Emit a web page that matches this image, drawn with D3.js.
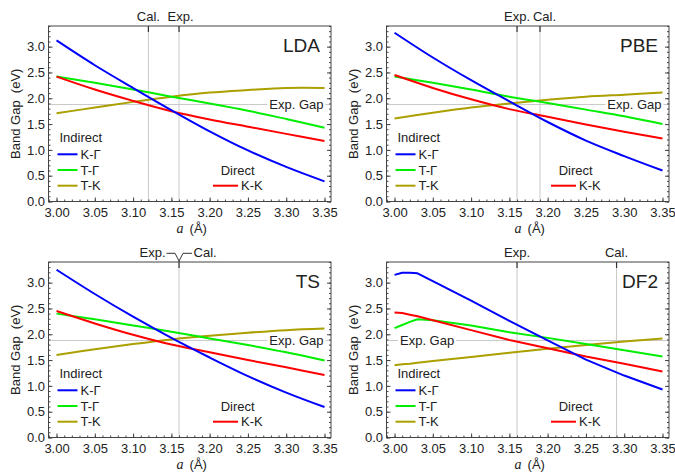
<!DOCTYPE html>
<html>
<head>
<meta charset="utf-8">
<script src="https://cdn.jsdelivr.net/npm/d3@7"></script>
<style>
  body { margin: 0; background: #fff; }
  text { font-family: "Liberation Sans", Arial, sans-serif; fill: #222; }
</style>
</head>
<body>
<div id="chart"></div>
<script>
// lattice constant grids (Å)
const xGrid = [3.00, 3.05, 3.10, 3.15, 3.20, 3.25, 3.30, 3.35];
const xGridDF2 = [3.00, 3.01, 3.02, 3.03, 3.05, 3.10, 3.15, 3.20, 3.25, 3.30, 3.35];
const xTicks = [3.00, 3.05, 3.10, 3.15, 3.20, 3.25, 3.30, 3.35];
const yTicks = [0, 0.5, 1.0, 1.5, 2.0, 2.5, 3.0];

const panelNames = ["LDA", "PBE", "TS", "DF2"];
const expLattice = 3.16;
const calLattice = [3.12, 3.19, 3.16, 3.29];
const expGap = 1.88;

// band gaps (eV)
const ldaKG = [3.12, 2.64, 2.20, 1.77, 1.36, 0.99, 0.67, 0.39];
const ldaTG = [2.42, 2.30, 2.17, 2.03, 1.90, 1.76, 1.60, 1.43];
const ldaTK = [1.71, 1.82, 1.93, 2.03, 2.11, 2.16, 2.20, 2.20];
const ldaKK = [2.42, 2.17, 1.95, 1.75, 1.59, 1.45, 1.31, 1.17];

const pbeKG = [3.27, 2.79, 2.35, 1.94, 1.54, 1.18, 0.88, 0.60];
const pbeTG = [2.42, 2.30, 2.17, 2.03, 1.91, 1.78, 1.65, 1.50];
const pbeTK = [1.61, 1.72, 1.82, 1.90, 1.97, 2.03, 2.07, 2.11];
const pbeKK = [2.45, 2.20, 1.98, 1.79, 1.64, 1.49, 1.35, 1.22];

const tsKG = [3.25, 2.78, 2.34, 1.93, 1.55, 1.19, 0.87, 0.59];
const tsTG = [2.40, 2.29, 2.17, 2.05, 1.92, 1.79, 1.65, 1.49];
const tsTK = [1.60, 1.71, 1.81, 1.90, 1.97, 2.03, 2.08, 2.11];
const tsKK = [2.45, 2.21, 1.99, 1.80, 1.65, 1.50, 1.36, 1.21];

const df2KG = [3.15, 3.19, 3.19, 3.18, 3.03, 2.65, 2.26, 1.88, 1.51, 1.20, 0.93];
const df2TG = [2.12, 2.18, 2.24, 2.29, 2.27, 2.17, 2.04, 1.93, 1.81, 1.69, 1.57];
const df2TK = [1.40, 1.42, 1.43, 1.45, 1.48, 1.56, 1.64, 1.72, 1.79, 1.86, 1.92];
const df2KK = [2.42, 2.41, 2.38, 2.35, 2.27, 2.08, 1.89, 1.73, 1.57, 1.43, 1.28];

const colors = { kg: "#0000ff", tg: "#00ee00", tk: "#aba000", kk: "#ff0000" };

const panels = [
  { name: panelNames[0], ox: 0,   oy: 0,   xs: xGrid,    kg: ldaKG, tg: ldaTG, tk: ldaTK, kk: ldaKK, cal: calLattice[0], calDx: 0,   expDx: 1.5, gapLeft: false, smooth: true },
  { name: panelNames[1], ox: 338, oy: 0,   xs: xGrid,    kg: pbeKG, tg: pbeTG, tk: pbeTK, kk: pbeKK, cal: calLattice[1], calDx: 4.5, expDx: 0,   gapLeft: false, smooth: true },
  { name: panelNames[2], ox: 0,   oy: 236, xs: xGrid,    kg: tsKG,  tg: tsTG,  tk: tsTK,  kk: tsKK,  cal: calLattice[2], calDx: 0,   expDx: 0,   gapLeft: false, smooth: true },
  { name: panelNames[3], ox: 338, oy: 236, xs: xGridDF2, kg: df2KG, tg: df2TG, tk: df2TK, kk: df2KK, cal: calLattice[3], calDx: 0,   expDx: 0,   gapLeft: true,  smooth: false }
];

const W = 675, H = 472;
const fl = 48.5, fr = 331, ft = 26, fb = 201.5;

const svg = d3.select("#chart").append("svg")
  .attr("width", W).attr("height", H);

const x = d3.scaleLinear().domain([2.9895, 3.3585]).range([fl, fr]);
const y = d3.scaleLinear().domain([0, 3.4]).range([fb, ft]);

const smoothLine = d3.line()
  .x(d => x(d[0]))
  .y(d => y(d[1]))
  .curve(d3.curveCatmullRom.alpha(0.5));
const kinkLine = d3.line()
  .x(d => x(d[0]))
  .y(d => y(d[1]))
  .curve(d3.curveLinear);

panels.forEach(p => {
  const g = svg.append("g").attr("transform", `translate(${p.ox},${p.oy})`);

  // reference lines
  g.append("line")
    .attr("x1", fl).attr("x2", fr)
    .attr("y1", y(expGap)).attr("y2", y(expGap))
    .attr("stroke", "#c8c8c8").attr("stroke-width", 1);

  const marks = p.cal === expLattice ? [expLattice] : [p.cal, expLattice];
  marks.forEach(a => {
    g.append("line")
      .attr("x1", x(a)).attr("x2", x(a))
      .attr("y1", ft).attr("y2", fb)
      .attr("stroke", "#c8c8c8").attr("stroke-width", 1);
  });

  // Exp. Gap label with white backing
  const gapBox = g.append("rect").attr("fill", "#fff");
  const gl = g.append("text")
    .attr("y", y(expGap) + 4.5)
    .attr("font-size", 13)
    .text("Exp. Gap");
  if (p.gapLeft) gl.attr("x", fl + 13.5).attr("text-anchor", "start");
  else gl.attr("x", fr - 7.5).attr("text-anchor", "end");
  const bb = gl.node().getBBox();
  gapBox.attr("x", bb.x - 2).attr("y", bb.y)
    .attr("width", bb.width + 4).attr("height", bb.height);

  // curves
  const line = p.smooth ? smoothLine : kinkLine;
  [["tk", p.tk], ["tg", p.tg], ["kk", p.kk], ["kg", p.kg]].forEach(([k, vals]) => {
    g.append("path")
      .datum(p.xs.map((a, i) => [a, vals[i]]))
      .attr("d", line)
      .attr("fill", "none")
      .attr("stroke", colors[k])
      .attr("stroke-width", 2)
      .attr("stroke-linejoin", "round");
  });

  // frame ticks
  const minorY = d3.range(0, 3.41, 0.1);
  const minorX = d3.range(2.99, 3.355, 0.01);

  g.append("g").attr("transform", `translate(${fl},0)`)
    .call(d3.axisLeft(y).tickValues(minorY).tickSize(-2).tickFormat(""));
  g.append("g").attr("transform", `translate(${fr},0)`)
    .call(d3.axisRight(y).tickValues(minorY).tickSize(-2).tickFormat(""));
  g.append("g").attr("transform", `translate(0,${fb})`)
    .call(d3.axisBottom(x).tickValues(minorX).tickSize(-2).tickFormat(""));

  g.append("g").attr("transform", `translate(${fl},0)`)
    .call(d3.axisLeft(y).tickValues(yTicks).tickSize(-4).tickPadding(3.5).tickFormat(d3.format(".1f")));
  g.append("g").attr("transform", `translate(${fr},0)`)
    .call(d3.axisRight(y).tickValues(yTicks).tickSize(-4).tickFormat(""));
  g.append("g").attr("transform", `translate(0,${fb})`)
    .call(d3.axisBottom(x).tickValues(xTicks).tickSize(-4).tickPadding(6.5).tickFormat(d3.format(".2f")));

  g.selectAll(".domain").remove();
  g.selectAll(".tick line").attr("stroke", "#444");
  g.selectAll(".tick text").attr("font-size", 13).attr("fill", "#222")
    .attr("font-family", "Liberation Sans, Arial, sans-serif");

  g.append("rect")
    .attr("x", fl).attr("y", ft)
    .attr("width", fr - fl).attr("height", fb - ft)
    .attr("fill", "none").attr("stroke", "#444").attr("stroke-width", 1);

  // top marks for Cal./Exp.
  if (p.cal === expLattice) {
    const xv = x(expLattice);
    g.append("path")
      .attr("d", `M${xv - 12.5},17.3H${xv - 4}L${xv},25L${xv + 4},17.3H${xv + 13}`)
      .attr("fill", "none").attr("stroke", "#333").attr("stroke-width", 1);
    g.append("line")
      .attr("x1", xv).attr("x2", xv).attr("y1", 25).attr("y2", ft + 6)
      .attr("stroke", "#333").attr("stroke-width", 1.2);
    g.append("text").attr("x", xv - 13.5).attr("y", 21)
      .attr("text-anchor", "end").attr("font-size", 13).text("Exp.");
    g.append("text").attr("x", xv + 14.5).attr("y", 21)
      .attr("text-anchor", "start").attr("font-size", 13).text("Cal.");
  } else {
    [[p.cal, "Cal.", p.calDx], [expLattice, "Exp.", p.expDx]].forEach(([a, t, dx]) => {
      g.append("line")
        .attr("x1", x(a)).attr("x2", x(a)).attr("y1", ft).attr("y2", ft + 6)
        .attr("stroke", "#333").attr("stroke-width", 1.2);
      g.append("text").attr("x", x(a) + dx).attr("y", 21)
        .attr("text-anchor", "middle").attr("font-size", 13).text(t);
    });
  }

  // panel name
  g.append("text").attr("x", fr - 11).attr("y", 52)
    .attr("text-anchor", "end").attr("font-size", 19).text(p.name);

  // legends
  g.append("text").attr("x", fl + 11).attr("y", 142).attr("font-size", 13).text("Indirect");
  [["kg", "K-Γ", 154.3], ["tg", "T-Γ", 170], ["tk", "T-K", 185.7]].forEach(([k, t, ly]) => {
    g.append("line").attr("x1", fl + 9).attr("x2", fl + 29)
      .attr("y1", ly).attr("y2", ly)
      .attr("stroke", colors[k]).attr("stroke-width", 2);
    g.append("text").attr("x", fl + 32).attr("y", ly + 4.6)
      .attr("font-size", 13).text(t);
  });
  g.append("text").attr("x", fr - 110.3).attr("y", 175).attr("font-size", 13).text("Direct");
  g.append("line").attr("x1", fr - 118).attr("x2", fr - 93)
    .attr("y1", 185.7).attr("y2", 185.7)
    .attr("stroke", colors.kk).attr("stroke-width", 2);
  g.append("text").attr("x", fr - 90).attr("y", 190.3).attr("font-size", 13).text("K-K");

  // axis titles
  g.append("text")
    .attr("transform", `translate(19.5,${(ft + fb) / 2}) rotate(-90)`)
    .attr("text-anchor", "middle").attr("font-size", 13)
    .style("white-space", "pre")
    .text("Band Gap  (eV)");
  const xt = g.append("text")
    .attr("x", (fl + fr) / 2 + 2).attr("y", 233)
    .attr("text-anchor", "middle").attr("font-size", 13);
  xt.append("tspan").attr("font-family", "Liberation Serif, Times New Roman, serif")
    .attr("font-style", "italic").attr("font-size", 14).text("a");
  xt.append("tspan").attr("dx", 6).text("(Å)");
});
</script>
</body>
</html>
